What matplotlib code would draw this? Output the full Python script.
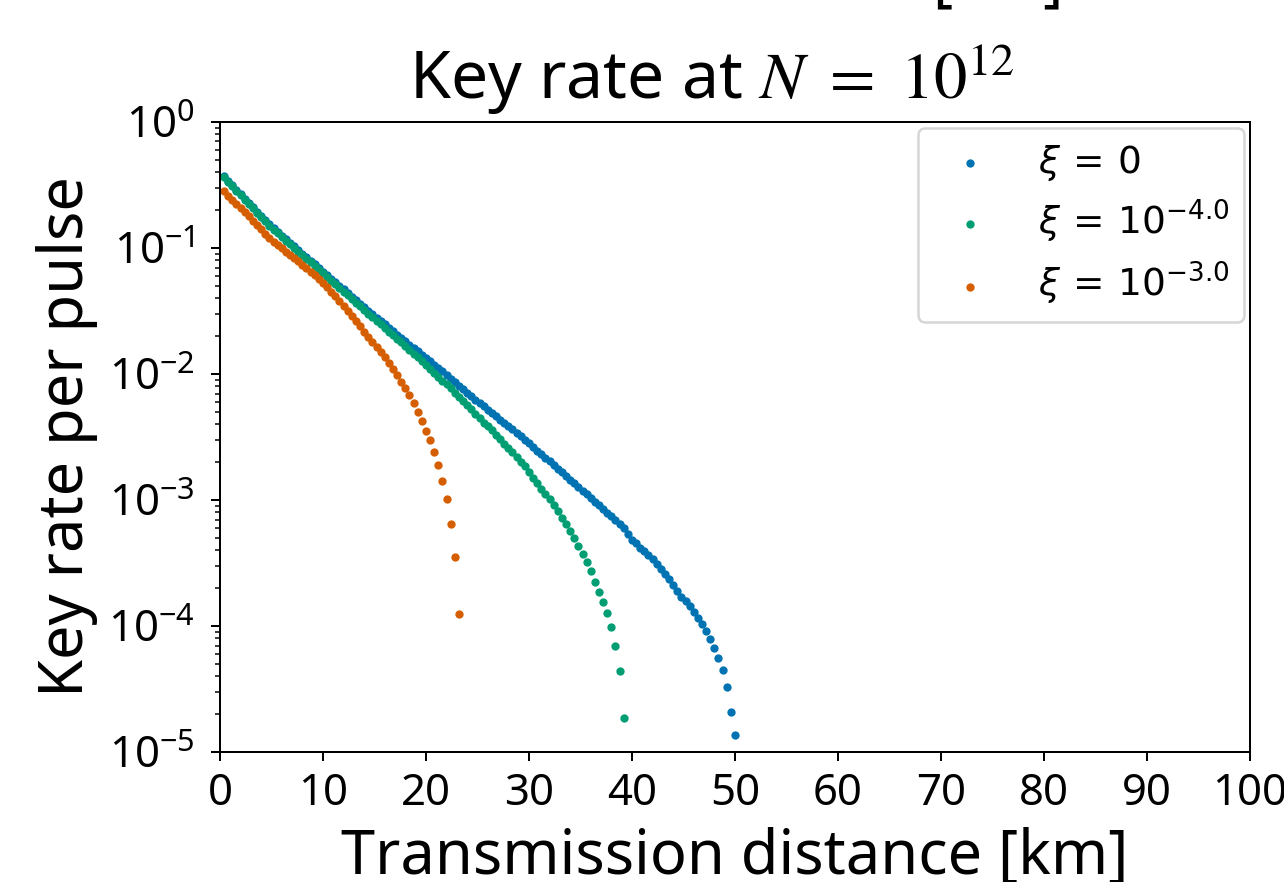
import numpy as np
import matplotlib
matplotlib.use("Agg")
import matplotlib.pyplot as plt

plt.rcParams['font.family'] = ['Noto Sans', 'Noto Sans CJK JP', 'DejaVu Sans']

# distance grid of the simulation (km)
step_km = 0.4

# log10 of key rate per pulse
rate_log10_xi0 = [
    -0.431, -0.466, -0.501, -0.537, -0.572, -0.608, -0.643, -0.677, -0.711, -0.745,
    -0.779, -0.812, -0.845, -0.874, -0.902, -0.931, -0.959, -0.988, -1.016, -1.045,
    -1.073, -1.102, -1.130, -1.159, -1.187, -1.216, -1.244, -1.272, -1.300, -1.329,
    -1.357, -1.386, -1.415, -1.442, -1.470, -1.497, -1.525, -1.552, -1.580, -1.607,
    -1.634, -1.661, -1.687, -1.712, -1.739, -1.766, -1.793, -1.820, -1.847, -1.873,
    -1.900, -1.926, -1.953, -1.980, -2.008, -2.036, -2.064, -2.092, -2.120, -2.147,
    -2.175, -2.203, -2.231, -2.258, -2.284, -2.310, -2.336, -2.362, -2.388, -2.414,
    -2.440, -2.466, -2.493, -2.521, -2.550, -2.579, -2.608, -2.637, -2.666, -2.694,
    -2.723, -2.752, -2.781, -2.810, -2.839, -2.868, -2.897, -2.926, -2.955, -2.984,
    -3.012, -3.041, -3.070, -3.100, -3.129, -3.159, -3.190, -3.225, -3.272, -3.317,
    -3.344, -3.384, -3.402, -3.437, -3.468, -3.508, -3.548, -3.588, -3.631, -3.676,
    -3.722, -3.769, -3.804, -3.844, -3.889, -3.937, -3.987, -4.043, -4.105, -4.174,
    -4.254, -4.350, -4.482, -4.679, -4.865,
]

rate_log10_xi1e4 = [
    -0.440, -0.474, -0.509, -0.545, -0.580, -0.616, -0.651, -0.685, -0.719, -0.753,
    -0.788, -0.822, -0.856, -0.885, -0.913, -0.942, -0.971, -1.000, -1.029, -1.058,
    -1.086, -1.115, -1.144, -1.173, -1.202, -1.231, -1.260, -1.289, -1.318, -1.347,
    -1.376, -1.405, -1.435, -1.463, -1.492, -1.520, -1.549, -1.578, -1.607, -1.636,
    -1.664, -1.693, -1.722, -1.750, -1.779, -1.809, -1.839, -1.869, -1.899, -1.929,
    -1.959, -1.990, -2.021, -2.052, -2.083, -2.115, -2.147, -2.180, -2.213, -2.246,
    -2.280, -2.314, -2.348, -2.386, -2.415, -2.447, -2.482, -2.519, -2.552, -2.586,
    -2.622, -2.660, -2.697, -2.734, -2.778, -2.825, -2.868, -2.910, -2.952, -2.995,
    -3.043, -3.091, -3.139, -3.187, -3.245, -3.304, -3.368, -3.429, -3.490, -3.564,
    -3.652, -3.730, -3.810, -3.900, -4.011, -4.158, -4.360, -4.733,
]

rate_log10_xi1e3 = [
    -0.551, -0.585, -0.618, -0.651, -0.684, -0.717, -0.750, -0.784, -0.818, -0.853,
    -0.888, -0.923, -0.950, -0.976, -1.002, -1.028, -1.054, -1.080, -1.106, -1.133,
    -1.160, -1.188, -1.217, -1.247, -1.278, -1.312, -1.348, -1.384, -1.421, -1.458,
    -1.497, -1.536, -1.576, -1.621, -1.668, -1.706, -1.744, -1.782, -1.822, -1.864,
    -1.910, -1.958, -2.008, -2.064, -2.112, -2.165, -2.231, -2.298, -2.373, -2.452,
    -2.527, -2.618, -2.726, -2.846, -2.995, -3.187, -3.456, -3.907,
]

series = [
    (rate_log10_xi0, r'$\xi\,=\,0$', '#0173b2'),
    (rate_log10_xi1e4, r'$\xi\,=\,10^{-4.0}$', '#029e73'),
    (rate_log10_xi1e3, r'$\xi\,=\,10^{-3.0}$', '#d55e00'),
]

fig = plt.figure(figsize=(1284 / 180, 882 / 180), dpi=180)
ax = fig.add_axes([0.1713, 0.1474, 0.8022, 0.7143])

for vals, label, color in series:
    d = step_km * np.arange(1, len(vals) + 1)
    ax.scatter(d, 10 ** np.array(vals), s=11, color=color, label=label,
               linewidths=0)

ax.set_yscale('log')
ax.set_xlim(0, 100)
ax.set_ylim(1e-5, 1e0)
ax.set_xticks(np.arange(0, 101, 10))
ax.tick_params(labelsize=17.5, pad=4.5)
ax.tick_params(axis='y', pad=6.5)

ax.set_xlabel('Transmission distance [km]', fontsize=24.5, labelpad=4)
ax.set_ylabel('Key rate per pulse', fontsize=24.5)
ax.set_title(r'Key rate at $N\ =\ 10^{12}$', fontsize=26.5, x=0.478,
             math_fontfamily='stix', pad=9)

ax.legend(loc='upper right', fontsize=15, borderaxespad=0.15,
          handletextpad=0.8, labelspacing=0.4)

# label of the panel above, cut off by the top edge
fig.text(670 / 1284, 1 + 2 / 882, 'Transmission distance [km]', fontsize=24.5,
         ha='center', va='baseline')

fig.savefig('out.png', dpi=180)
